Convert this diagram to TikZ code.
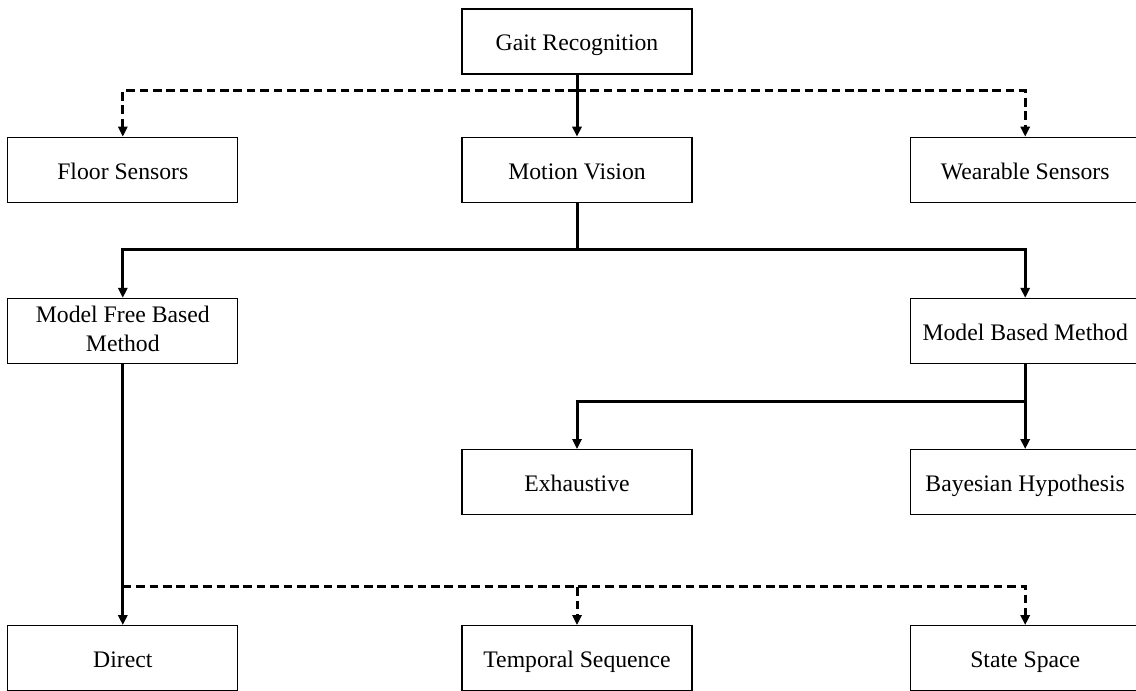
\documentclass[tikz,border=0pt]{standalone}
\usepackage{fontspec}
\setmainfont{Liberation Serif}
\usetikzlibrary{positioning,calc,arrows.meta}

\newcommand{\boxstrut}{\rule[-2.5pt]{0pt}{14.5pt}}

\begin{document}
\begin{tikzpicture}[
    block/.style = {rectangle,draw,line width=0.6pt,minimum width=115pt,minimum height=32.5pt,inner sep=2pt,align=center,
        font=\fontsize{11.85}{14.5}\selectfont,execute at begin node=\boxstrut,execute at end node=\boxstrut},
    link/.style = {-{Triangle[length=5pt,width=4.6pt]},line width=1.5pt},
    optional/.style = {link,dash pattern=on 4.3pt off 2.4pt},
    trunk/.style = {line width=1.5pt}
    ]
    \useasboundingbox (0,0) rectangle (568pt,-345.5pt);
    \clip (0,0) rectangle (568pt,-345.5pt);

    \node[block] (gait) at (288.5pt,-20.75pt) {Gait Recognition};
    \node[block, below=31pt of gait] (motion) {Motion Vision};
    \node[block, left=111.5pt of motion] (floor) {Floor Sensors};
    \node[block, right=108.5pt of motion] (wearable) {Wearable Sensors};
    \node[block, below=47.5pt of floor] (free) {Model Free Based\\Method};
    \node[block, below=47.5pt of wearable] (based) {Model Based Method};
    \node[block, below=42.5pt of based] (bayes) {Bayesian Hypothesis};
    \node[block, left=108.5pt of bayes] (exhaustive) {Exhaustive};
    \node[block, below=130.5pt of free] (direct) {Direct};
    \node[block, right=111.5pt of direct] (temporal) {Temporal Sequence};
    \node[block, right=108.5pt of temporal] (statespace) {State Space};

    % branch points
    \coordinate (s1) at ($(gait.south)+(0,-8pt)$);
    \coordinate (s2) at ($(motion.south)+(0,-23.5pt)$);
    \coordinate (s3) at ($(based.south)+(0,-18.5pt)$);
    \coordinate (s4) at ($(direct.north)+(0,19.5pt)$);

    \draw[link] (gait) -- (motion);
    \draw[optional] (s1) -| (floor);
    \draw[optional] (s1) -| (wearable);
    \draw[trunk] (motion) -- (s2);
    \draw[link] (s2) -| (free);
    \draw[link] (s2) -| (based);
    \draw[link] (based) -- (bayes);
    \draw[link] (s3) -| (exhaustive);
    \draw[link] (free) -- (direct);
    \draw[optional] (s4) -| (temporal);
    \draw[optional] (s4) -| (statespace);
\end{tikzpicture}
\end{document}
